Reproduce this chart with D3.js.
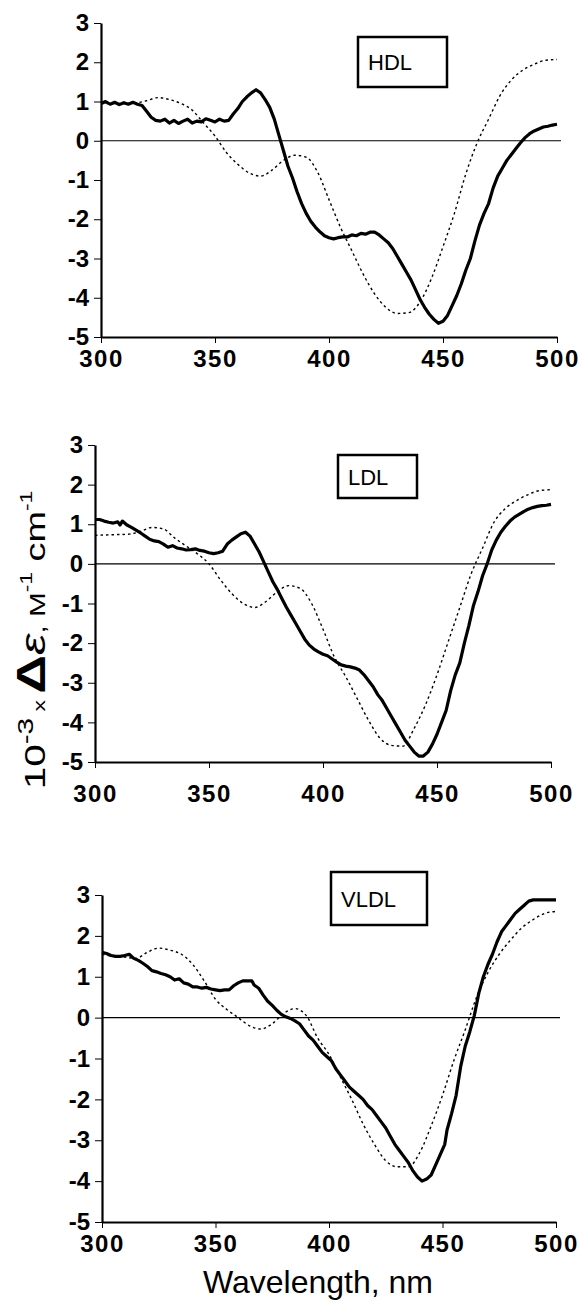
<!doctype html>
<html>
  <head>
    <meta charset="utf-8">
    <title>CD spectra</title>
    <script src="https://d3js.org/d3.v7.min.js"></script>
    <style type="text/css">
      body { margin: 0; background-color: #ffffff; }
      svg { display: block; }
      .tick text { font-family: "Liberation Sans", Arial, sans-serif; font-weight: bold; fill: #000; }
    </style>
  </head>
  <body>
    <script>
// panel names and axis ticks
var panelNames = ["HDL", "LDL", "VLDL"];
var xTicks = [300, 350, 400, 450, 500];
var yTicks = [3, 2, 1, 0, -1, -2, -3, -4, -5];
var xTitle = "Wavelength, nm";
var yTitleParts = ["10", "-3", " x ", "\u0394", "\u03b5", ", M", "-1", " cm", "-1"];

// [wavelength nm, 10^-3 x delta epsilon]
var hdlSolid = [[300,0.95],[302,1.0],[304,0.93],[306,0.98],[308,0.92],[310,0.97],[312,0.93],[314,0.98],[316,0.93],[318,0.9],
  [320,0.75],[322,0.6],[324,0.52],[326,0.5],[328,0.55],[330,0.45],[332,0.52],[334,0.44],[336,0.5],[338,0.55],[340,0.45],
  [342,0.5],[344,0.48],[346,0.56],[348,0.52],[350,0.48],[352,0.55],[354,0.5],[356,0.52],[358,0.68],[360,0.82],[362,1.0],
  [364,1.12],[366,1.22],[368,1.3],[370,1.22],[372,1.05],[374,0.85],[376,0.55],[378,0.15],[380,-0.25],[382,-0.65],[384,-0.95],
  [386,-1.3],[388,-1.6],[390,-1.85],[392,-2.05],[394,-2.2],[396,-2.32],[398,-2.42],[400,-2.47],[402,-2.5],[404,-2.47],
  [406,-2.45],[408,-2.45],[410,-2.4],[412,-2.42],[414,-2.36],[416,-2.38],[418,-2.33],[420,-2.33],[422,-2.4],[424,-2.5],
  [426,-2.6],[428,-2.75],[430,-2.95],[432,-3.15],[434,-3.35],[436,-3.55],[438,-3.8],[440,-4.05],[442,-4.25],[444,-4.42],
  [446,-4.55],[448,-4.65],[450,-4.6],[452,-4.45],[454,-4.2],[456,-3.95],[458,-3.65],[460,-3.3],[462,-3.0],[464,-2.55],
  [466,-2.15],[468,-1.85],[470,-1.6],[472,-1.2],[474,-0.9],[476,-0.7],[478,-0.5],[480,-0.35],[482,-0.2],[484,-0.05],
  [486,0.08],[488,0.18],[490,0.25],[492,0.3],[494,0.35],[496,0.37],[498,0.4],[500,0.42]];
var hdlDotted = [[300,0.95],[305,0.95],[310,0.95],[315,0.96],[320,1.02],[325,1.1],[330,1.05],[335,0.95],[340,0.78],
  [345,0.45],[350,0.12],[355,-0.3],[360,-0.6],[365,-0.82],[370,-0.9],[375,-0.75],[380,-0.5],[385,-0.37],[390,-0.42],
  [395,-0.8],[400,-1.5],[405,-2.2],[410,-2.8],[415,-3.4],[420,-3.9],[425,-4.25],[430,-4.4],[435,-4.38],[440,-4.1],
  [445,-3.5],[450,-2.7],[455,-1.85],[460,-0.85],[465,-0.05],[470,0.55],[475,1.15],[480,1.55],[485,1.8],[490,1.95],
  [495,2.05],[500,2.07]];

var ldlSolid = [[300,1.12],[302,1.12],[304,1.08],[306,1.05],[308,1.03],[310,1.06],[311,0.98],[312,1.08],[314,0.98],
  [316,0.92],[318,0.85],[320,0.78],[322,0.7],[324,0.62],[326,0.58],[328,0.56],[330,0.5],[332,0.42],[334,0.46],[336,0.4],
  [338,0.38],[340,0.35],[342,0.36],[344,0.38],[346,0.34],[348,0.32],[350,0.28],[352,0.26],[354,0.28],[356,0.32],[358,0.5],
  [360,0.6],[362,0.68],[364,0.76],[366,0.8],[368,0.7],[370,0.5],[372,0.3],[374,0.05],[376,-0.2],[378,-0.45],[380,-0.65],
  [382,-0.88],[384,-1.1],[386,-1.3],[388,-1.5],[390,-1.7],[392,-1.9],[394,-2.05],[396,-2.15],[398,-2.22],[400,-2.28],
  [402,-2.32],[404,-2.4],[406,-2.48],[408,-2.55],[410,-2.58],[412,-2.6],[414,-2.63],[416,-2.68],[418,-2.8],[420,-2.95],
  [422,-3.1],[424,-3.3],[426,-3.45],[428,-3.65],[430,-3.85],[432,-4.05],[434,-4.25],[436,-4.45],[438,-4.6],[440,-4.75],
  [442,-4.85],[444,-4.85],[446,-4.75],[448,-4.55],[450,-4.3],[452,-4.0],[454,-3.7],[456,-3.2],[458,-2.8],[460,-2.5],
  [462,-2.0],[464,-1.55],[466,-1.05],[468,-0.7],[470,-0.3],[472,0.0],[474,0.35],[476,0.6],[478,0.8],[480,0.95],[482,1.08],
  [484,1.18],[486,1.25],[488,1.32],[490,1.38],[492,1.42],[494,1.45],[496,1.47],[498,1.48],[500,1.5]];
var ldlDotted = [[300,0.72],[305,0.73],[310,0.74],[315,0.75],[320,0.82],[325,0.92],[330,0.88],[335,0.65],[340,0.45],
  [345,0.25],[350,0.0],[355,-0.4],[360,-0.75],[365,-1.0],[370,-1.1],[375,-0.95],[380,-0.7],[385,-0.55],[390,-0.62],
  [395,-1.0],[400,-1.65],[405,-2.35],[410,-2.85],[415,-3.4],[420,-3.95],[425,-4.4],[430,-4.58],[435,-4.6],[440,-4.15],
  [445,-3.55],[450,-2.8],[455,-1.95],[460,-1.1],[465,-0.25],[470,0.4],[475,1.05],[480,1.4],[485,1.6],[490,1.75],
  [495,1.85],[500,1.87]];

var vldlSolid = [[300,1.6],[302,1.57],[304,1.52],[306,1.5],[308,1.5],[310,1.52],[312,1.55],[314,1.45],[316,1.4],[318,1.33],
  [320,1.25],[322,1.15],[324,1.12],[326,1.08],[328,1.05],[330,1.0],[332,0.92],[334,0.95],[336,0.85],[338,0.82],[340,0.75],
  [342,0.75],[344,0.72],[346,0.74],[348,0.7],[350,0.68],[352,0.66],[354,0.68],[356,0.68],[358,0.78],[360,0.85],[362,0.9],
  [364,0.9],[366,0.9],[367,0.8],[369,0.72],[371,0.55],[373,0.4],[375,0.3],[377,0.18],[379,0.08],[381,0.02],[383,-0.02],
  [385,-0.08],[387,-0.15],[389,-0.3],[391,-0.45],[393,-0.55],[395,-0.7],[397,-0.85],[399,-0.95],[401,-1.05],[403,-1.25],
  [405,-1.4],[407,-1.55],[409,-1.7],[411,-1.8],[413,-1.9],[415,-2.0],[417,-2.15],[419,-2.25],[421,-2.4],[423,-2.55],
  [425,-2.7],[427,-2.9],[429,-3.1],[431,-3.25],[433,-3.4],[435,-3.55],[437,-3.75],[439,-3.9],[441,-4.0],[443,-3.95],
  [445,-3.85],[447,-3.6],[449,-3.35],[451,-3.1],[452,-2.75],[454,-2.35],[456,-1.9],[458,-1.2],[460,-0.7],[462,-0.35],
  [464,0.05],[466,0.6],[468,1.0],[470,1.3],[472,1.55],[474,1.85],[476,2.1],[478,2.25],[480,2.4],[482,2.55],[484,2.65],
  [486,2.75],[488,2.85],[490,2.88],[494,2.88],[500,2.88]];
var vldlDotted = [[300,1.55],[305,1.5],[310,1.48],[315,1.45],[320,1.6],[325,1.7],[330,1.65],[335,1.55],[340,1.3],
  [345,0.9],[350,0.45],[355,0.2],[360,0.0],[365,-0.2],[370,-0.28],[375,-0.15],[380,0.1],[385,0.22],[390,0.05],[395,-0.5],
  [400,-0.9],[405,-1.45],[410,-2.0],[415,-2.6],[420,-3.1],[425,-3.5],[430,-3.65],[435,-3.65],[440,-3.3],[445,-2.65],
  [450,-1.9],[455,-1.05],[460,-0.3],[465,0.5],[470,1.1],[475,1.55],[480,1.9],[485,2.2],[490,2.4],[495,2.55],[500,2.6]];

var solidSeries = [hdlSolid, ldlSolid, vldlSolid];
var dottedSeries = [hdlDotted, ldlDotted, vldlDotted];

// where each panel sits on the page
var layout = [
  {x0: 101, x1: 557, yTop: 23,  yBot: 337,  pad: 7,  box: [358, 37, 89, 50]},
  {x0: 95,  x1: 551, yTop: 445, yBot: 762,  pad: 17, box: [338, 455, 79, 43]},
  {x0: 102, x1: 556, yTop: 895, yBot: 1222, pad: 7,  box: [331, 872, 96, 53]}
];

// y title pieces: font size, weight, style, shift off the baseline
var yTitleStyle = [
  {fs: 30, fw: "normal", st: "normal", dy: 0},
  {fs: 22, fw: "normal", st: "normal", dy: -12},
  {fs: 17, fw: "normal", st: "normal", dy: 12},
  {fs: 40, fw: "bold",   st: "normal", dy: 0},
  {fs: 36, fw: "normal", st: "italic", dy: 0},
  {fs: 22, fw: "normal", st: "normal", dy: 0},
  {fs: 17, fw: "normal", st: "normal", dy: -13},
  {fs: 28, fw: "normal", st: "normal", dy: 13},
  {fs: 17, fw: "normal", st: "normal", dy: -13}
];

var w = 579, h = 1307;
var svg = d3.select("body").append("svg").attr("width", w).attr("height", h);

panelNames.forEach(function(name, i) {
  var L = layout[i];
  var x = d3.scaleLinear().domain([300, 500]).range([L.x0, L.x1]);
  var y = d3.scaleLinear().domain([-5, 3]).range([L.yBot, L.yTop]);
  var g = svg.append("g");

  // zero line
  g.append("line")
    .attr("x1", x(300)).attr("x2", x(500) + 4)
    .attr("y1", y(0)).attr("y2", y(0))
    .attr("stroke", "#000").attr("stroke-width", 1.2);

  var yAxis = g.append("g")
    .attr("transform", "translate(" + x(300) + ",0)")
    .call(d3.axisLeft(y).tickValues(yTicks).tickSize(7).tickSizeOuter(0).tickPadding(5)
      .tickFormat(function(d) { return String(d); }));
  var xAxis = g.append("g")
    .attr("transform", "translate(0," + y(-5) + ")")
    .call(d3.axisBottom(x).tickValues(xTicks).tickSize(6).tickSizeOuter(0).tickPadding(L.pad)
      .tickFormat(function(d) { return String(d); }));
  [yAxis, xAxis].forEach(function(a) {
    a.select(".domain").attr("stroke-width", 2.2);
    a.selectAll(".tick line").attr("stroke-width", 1);
    a.selectAll(".tick text").style("font-size", "24px");
  });
  xAxis.selectAll(".tick text").style("letter-spacing", "1.5px");

  var line = d3.line()
    .x(function(d) { return x(d[0]); })
    .y(function(d) { return y(d[1]); });

  g.append("path")
    .datum(dottedSeries[i])
    .attr("d", line.curve(d3.curveMonotoneX))
    .attr("fill", "none").attr("stroke", "#000")
    .attr("stroke-width", 1.4).attr("stroke-dasharray", "2.5,3");

  g.append("path")
    .datum(solidSeries[i])
    .attr("d", line.curve(d3.curveLinear))
    .attr("fill", "none").attr("stroke", "#000")
    .attr("stroke-width", 3.2).attr("stroke-linejoin", "round");

  // label box
  g.append("rect")
    .attr("x", L.box[0]).attr("y", L.box[1])
    .attr("width", L.box[2]).attr("height", L.box[3])
    .attr("fill", "#fff").attr("stroke", "#000").attr("stroke-width", 2.5);
  g.append("text")
    .attr("x", L.box[0] + 10).attr("y", L.box[1] + L.box[3] / 2 + 8)
    .style("font-family", "Liberation Sans, Arial, sans-serif")
    .style("font-size", "22px")
    .text(name);
});

// x title
svg.append("text")
  .attr("x", 318).attr("y", 1293)
  .attr("text-anchor", "middle")
  .style("font-family", "Liberation Sans, Arial, sans-serif")
  .style("font-size", "32px")
  .text(xTitle);

// y title, rotated and a little stretched along its length like in the scan
var yt = svg.append("text")
  .attr("transform", "translate(45,640) rotate(-90) scale(1.35,1)")
  .attr("text-anchor", "middle")
  .style("font-family", "Liberation Sans, Arial, sans-serif");
yTitleParts.forEach(function(s, k) {
  var P = yTitleStyle[k];
  yt.append("tspan")
    .style("font-size", P.fs + "px")
    .style("font-weight", P.fw)
    .style("font-style", P.st)
    .attr("dy", P.dy)
    .text(s);
});
    </script>
  </body>
</html>
